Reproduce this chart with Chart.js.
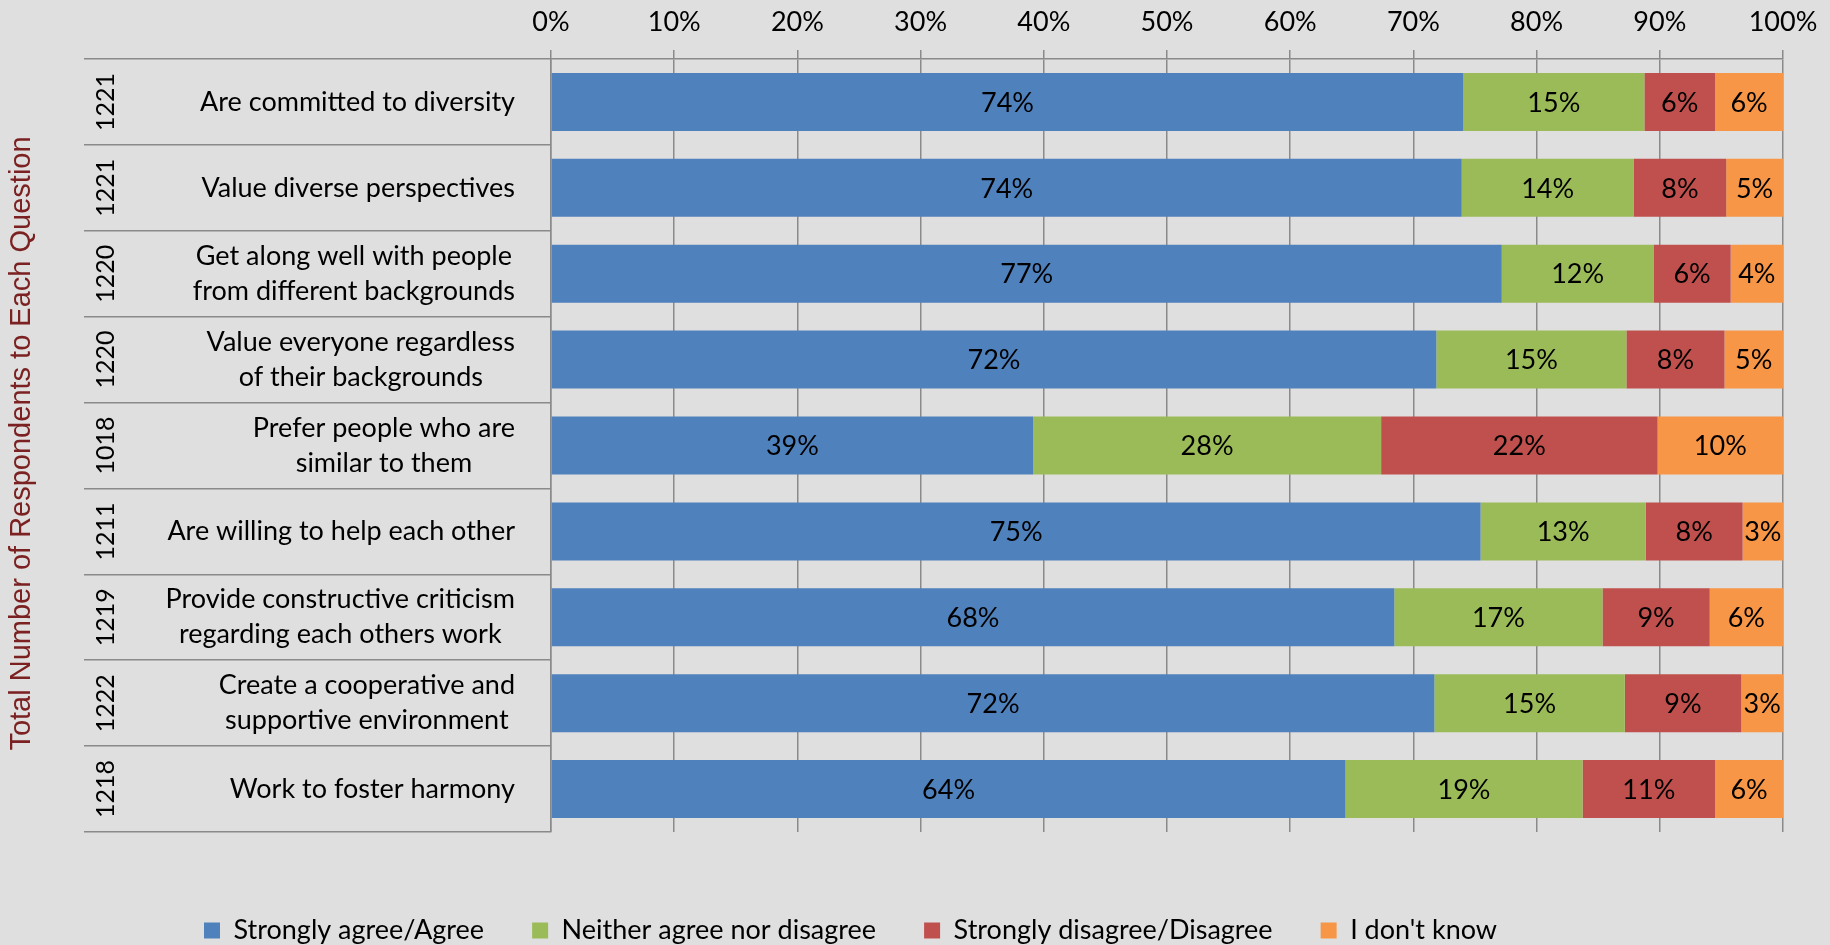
<!DOCTYPE html>
<html>
<head>
<meta charset="utf-8">
<title>Team climate survey</title>
<script src="https://cdn.jsdelivr.net/npm/chart.js@4.4.1/dist/chart.umd.min.js"></script>
<style>
    html, body { margin: 0; padding: 0; background: #dfdfdf; }
    #wrap { width: 1830px; height: 945px; }
</style>
</head>
<body>
<div id="wrap"><canvas id="surveyChart" width="1830" height="945"></canvas></div>
<script>
// ------------------------------
// Survey data (percent of respondents per answer)
// ------------------------------
const questions = [
    ['Are committed to diversity'],
    ['Value diverse perspectives'],
    ['Get along well with people', 'from different backgrounds'],
    ['Value everyone regardless', 'of their backgrounds'],
    ['Prefer people who are', 'similar to them'],
    ['Are willing to help each other'],
    ['Provide constructive criticism', 'regarding each others work'],
    ['Create a cooperative and', 'supportive environment'],
    ['Work to foster harmony']
];
const respondents = [1221, 1221, 1220, 1220, 1018, 1211, 1219, 1222, 1218];

const agree    = [74.05, 73.92, 77.17, 71.86, 39.13, 75.45, 68.45, 71.70, 64.48];
const neither  = [14.70, 13.95, 12.32, 15.43, 28.25, 13.41, 16.90, 15.46, 19.25];
const disagree = [5.74, 7.52, 6.26, 7.96, 22.44, 7.86, 8.70, 9.45, 10.76];
const dontKnow = [5.51, 4.61, 4.25, 4.75, 10.18, 3.28, 5.95, 3.39, 5.51];

const seriesNames = ['Strongly agree/Agree', 'Neither agree nor disagree', 'Strongly disagree/Disagree', "I don't know"];
const axisTitle = 'Total Number of Respondents to Each Question';

// ------------------------------
// Styling
// ------------------------------
const colors = ['#4f81bd', '#9bbb59', '#c0504d', '#f79646'];
const FONT = 'Lato, "Open Sans", sans-serif';
const gridGray = '#8a8a8a';
const labelRight = 515;   // right edge of question text

// ------------------------------
// Plugins: background, segment labels, left-hand category block
// ------------------------------
const background = {
    id: 'background',
    beforeDraw(chart) {
        const ctx = chart.ctx;
        ctx.save();
        ctx.fillStyle = '#dfdfdf';
        ctx.fillRect(0, 0, chart.width, chart.height);
        ctx.restore();
    }
};

// legend sits a bit left of the plot centre
const legendShift = {
    id: 'legendShift',
    afterLayout(chart) {
        chart.legend.left -= 83;
        chart.legend.right -= 83;
    }
};

const segmentLabels = {
    id: 'segmentLabels',
    afterDatasetsDraw(chart) {
        const ctx = chart.ctx;
        ctx.save();
        ctx.font = `27px ${FONT}`;
        ctx.fillStyle = '#000';
        ctx.textAlign = 'center';
        ctx.textBaseline = 'middle';
        chart.data.datasets.forEach((ds, di) => {
            chart.getDatasetMeta(di).data.forEach((bar, i) => {
                const cx = (bar.x + bar.base) / 2;
                ctx.fillText(Math.round(ds.data[i]) + '%', cx, bar.y + 1);
            });
        });
        ctx.restore();
    }
};

const categoryBlock = {
    id: 'categoryBlock',
    afterDraw(chart) {
        const ctx = chart.ctx;
        const yScale = chart.scales.y;
        ctx.save();
        ctx.fillStyle = '#000';
        ctx.textBaseline = 'middle';

        questions.forEach((lines, i) => {
            const cy = yScale.getPixelForValue(i);
            // lines are centred inside a right-aligned block
            ctx.font = `27px ${FONT}`;
            const blockW = Math.max(...lines.map(l => ctx.measureText(l).width));
            const cx = labelRight - blockW / 2;
            ctx.textAlign = 'center';
            const lh = 35;
            lines.forEach((l, k) => {
                ctx.fillText(l, cx, cy + (k - (lines.length - 1) / 2) * lh);
            });

            // respondent count, rotated
            ctx.save();
            ctx.translate(106, cy);
            ctx.rotate(-Math.PI / 2);
            ctx.font = `25px ${FONT}`;
            ctx.fillText(String(respondents[i]), 0, 0);
            ctx.restore();
        });

        // vertical axis title
        const midY = (chart.chartArea.top + chart.chartArea.bottom) / 2 - 2;
        ctx.save();
        ctx.translate(22, midY);
        ctx.rotate(-Math.PI / 2);
        ctx.textAlign = 'center';
        ctx.fillStyle = '#7b2121';
        ctx.font = '29px "Liberation Sans", Arial, sans-serif';
        ctx.fillText(axisTitle, 0, 0);
        ctx.restore();

        ctx.restore();
    }
};

// ------------------------------
// Chart
// ------------------------------
const seriesData = [agree, neither, disagree, dontKnow];

const chart = new Chart(document.getElementById('surveyChart').getContext('2d'), {
    type: 'bar',
    data: {
        labels: questions.map(q => q.join(' ')),
        datasets: seriesData.map((d, i) => ({
            label: seriesNames[i],
            data: d,
            backgroundColor: colors[i],
            borderWidth: 0,
            barPercentage: 0.675,
            categoryPercentage: 1
        }))
    },
    options: {
        indexAxis: 'y',
        responsive: false,
        animation: false,
        devicePixelRatio: 1,
        layout: { padding: { top: 8, left: 84, right: 47, bottom: -9 } },
        plugins: {
            tooltip: { enabled: false },
            legend: {
                position: 'bottom',
                labels: {
                    boxWidth: 16,
                    boxHeight: 16,
                    padding: 48,
                    color: '#000',
                    font: { family: FONT, size: 27 }
                }
            }
        },
        scales: {
            x: {
                position: 'top',
                stacked: true,
                min: 0,
                max: 100,
                ticks: {
                    stepSize: 10,
                    padding: 12,
                    color: '#000',
                    font: { family: FONT, size: 27 },
                    callback: v => v + '%'
                },
                grid: { color: gridGray, lineWidth: 1.5, tickLength: 9 },
                border: { display: true, color: gridGray, width: 1.5 },
                afterFit(s) { s.height = 51; }
            },
            gap: {
                axis: 'x',
                type: 'linear',
                position: 'bottom',
                grid: { display: false },
                ticks: { display: false },
                border: { display: false },
                afterFit(s) { s.height = 37; }
            },
            y: {
                stacked: true,
                offset: true,
                ticks: { display: false },
                grid: {
                    offset: true,
                    drawOnChartArea: false,
                    tickLength: 467,
                    color: gridGray,
                    lineWidth: 1.5
                },
                border: { display: true, color: gridGray, width: 1.5 },
                afterFit(s) { s.width = 467; }
            }
        }
    },
    plugins: [background, legendShift, segmentLabels, categoryBlock]
});
</script>
</body>
</html>
